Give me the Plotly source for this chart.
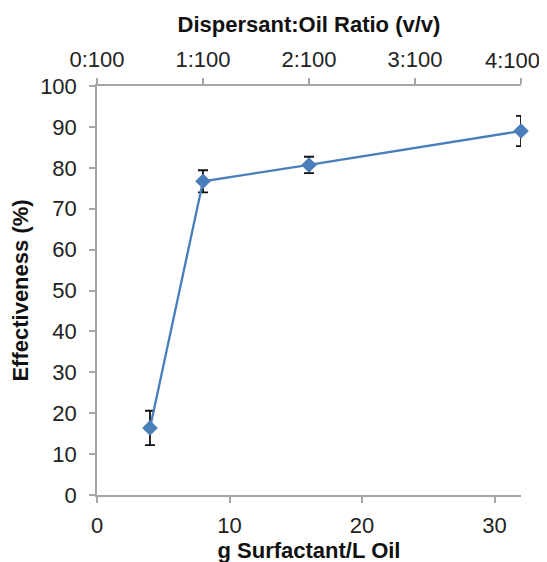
import plotly.graph_objects as go

surfactant = [4, 8, 16, 32]
effectiveness = [16.4, 76.7, 80.7, 89.0]
err = [4.2, 2.7, 2.0, 3.7]
ratio_vals = [0, 1, 2, 3, 4]
ratio_labels = ["0:100", "1:100", "2:100", "3:100", "4:100"]
bottom_ticks = [0, 10, 20, 30]
y_ticks = [0, 10, 20, 30, 40, 50, 60, 70, 80, 90, 100]

font_family = "Liberation Sans, Arial, sans-serif"
axis_col = "#a6a6a6"
text_col = "#222222"
tick_size = 22
title_size = 22

# last top label is drawn as an annotation nudged left (as in the original) so it stays inside the page
top_text = ratio_labels[:-1] + [""]

fig = go.Figure()
fig.add_trace(go.Scatter(
    x=surfactant, y=effectiveness, mode="lines+markers",
    line=dict(color="#4a7ebb", width=2.3),
    marker=dict(symbol="diamond", size=12, color="#4a7ebb"),
    error_y=dict(type="data", array=err, visible=True, color="#111111", thickness=1.8, width=5),
    showlegend=False, cliponaxis=False,
))
fig.add_trace(go.Scatter(
    x=[ratio_vals[0], ratio_vals[-1]], y=[None, None], xaxis="x2",
    mode="markers", showlegend=False, hoverinfo="skip",
))

common = dict(showgrid=False, zeroline=False, showline=True, linecolor=axis_col, linewidth=1.5,
              ticks="outside", ticklen=6, tickcolor=axis_col, tickwidth=1.5,
              automargin=False, tickfont=dict(size=tick_size, color=text_col))

fig.update_layout(
    width=547, height=562,
    margin=dict(l=89, r=34, t=78, b=75),
    paper_bgcolor="white", plot_bgcolor="white",
    font=dict(family=font_family, size=tick_size, color=text_col),
    xaxis=dict(
        range=[0, 32], tickvals=bottom_ticks, ticklabelstandoff=4,
        title=dict(text="<b>g Surfactant/L Oil</b>", standoff=0, font=dict(size=title_size, color="#111111")),
        **common,
    ),
    xaxis2=dict(
        range=[0, 4], overlaying="x", side="top", anchor="y",
        tickvals=ratio_vals, ticktext=top_text, ticklabelstandoff=2,
        title=dict(text="<b>Dispersant:Oil Ratio (v/v)</b>", standoff=9, font=dict(size=title_size, color="#111111")),
        **common,
    ),
    yaxis=dict(
        range=[0, 100], tickvals=y_ticks, ticklabelstandoff=8,
        title=dict(text="<b>Effectiveness (%)</b>", standoff=6, font=dict(size=title_size, color="#111111")),
        **common,
    ),
    annotations=[dict(
        text=ratio_labels[-1], xref="x2", yref="paper", x=ratio_vals[-1], y=1,
        xanchor="right", yanchor="middle", xshift=21, yshift=26, showarrow=False,
        font=dict(size=tick_size, color=text_col),
    )],
)

fig.write_html("out.html")
